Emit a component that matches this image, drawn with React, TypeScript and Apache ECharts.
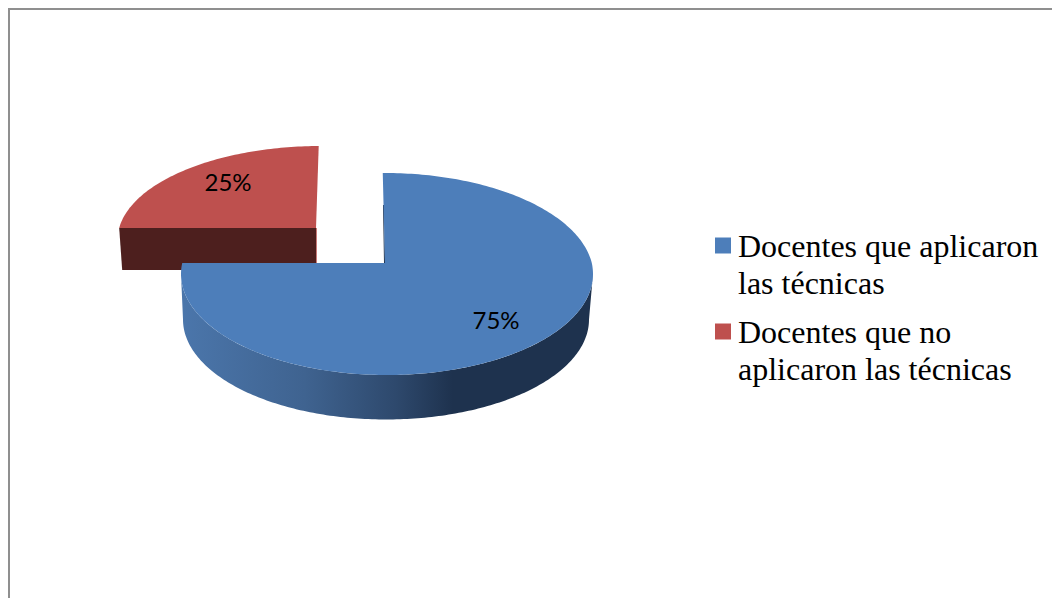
import React, { useEffect, useRef } from "react";
import * as echarts from "echarts";

const categories = ["Docentes que aplicaron las técnicas", "Docentes que no aplicaron las técnicas"];
const legendLines = ["Docentes que aplicaron\nlas técnicas", "Docentes que no\naplicaron las técnicas"];
const shares = [75, 25];
const percentLabels = ["75%", "25%"];
const colors = ["#4d7eba", "#be504e"];

type Slice = {
  apex: number[]; center: number[]; rx: number; ry: number; shear: number; label: number[]; startDeg: number;
};
const geometry: Slice[] = [
  { apex: [385, 263], center: [387, 274], rx: 206, ry: 101, shear: -0.025, label: [496, 319.5], startDeg: 0 },
  { apex: [316, 228], center: [318, 238], rx: 200, ry: 92, shear: 0.033, label: [228, 181.5], startDeg: 270 },
];
const bottomRim = { center: [386, 319.5], rx: 203, ry: 100 };
const legendTops = [190, 276];

function arcPoints(g: Slice, sweepDeg: number): number[][] {
  const ax = (g.apex[0] - g.center[0]) / g.rx;
  const ay = (g.apex[1] - g.center[1]) / g.ry;
  const param = (deg: number) => {
    const r = (deg * Math.PI) / 180;
    const dx = Math.sin(r);
    const dy = -Math.cos(r);
    const b = ax * dx + ay * dy;
    const s = -b + Math.sqrt(b * b - ax * ax - ay * ay + 1);
    return Math.atan2(ay + s * dy, ax + s * dx);
  };
  const t0 = param(g.startDeg);
  let t1 = param(g.startDeg + sweepDeg);
  while (t1 <= t0) t1 += Math.PI * 2;
  const pts: number[][] = [];
  const n = Math.ceil(((t1 - t0) * 180) / Math.PI);
  for (let i = 0; i <= n; i++) {
    const t = t0 + ((t1 - t0) * i) / n;
    const x = g.center[0] + g.rx * Math.cos(t);
    const y = g.center[1] + g.ry * Math.sin(t);
    pts.push([x + (y < g.apex[1] ? g.shear * (g.apex[1] - y) : 0), y]);
  }
  return pts;
}

function blueSide(): number[][] {
  const g = geometry[0];
  const pts: number[][] = [];
  for (let d = 0; d <= 180; d++) {
    const t = (d * Math.PI) / 180;
    pts.push([g.center[0] + g.rx * Math.cos(t), g.center[1] + g.ry * Math.sin(t)]);
  }
  for (let d = 180; d >= 0; d--) {
    const t = (d * Math.PI) / 180;
    pts.push([bottomRim.center[0] + bottomRim.rx * Math.cos(t), bottomRim.center[1] + bottomRim.ry * Math.sin(t)]);
  }
  return pts;
}

function renderSlice(index: number) {
  return (_params: any, api: any) => {
    const g = geometry[index];
    const sweep = (api.value(0) / 100) * 360;
    const arc = arcPoints(g, sweep);
    const children: any[] = [];
    if (index === 0) {
      children.push({
        type: "polygon",
        shape: { points: blueSide() },
        style: {
          fill: new echarts.graphic.LinearGradient(0, 0, 1, 0, [
            { offset: 0, color: "#4b76ab" },
            { offset: 0.3, color: "#3f6390" },
            { offset: 0.52, color: "#2e496d" },
            { offset: 0.66, color: "#1e324e" },
            { offset: 1, color: "#1e324e" },
          ]),
        },
      });
      children.push({
        type: "line",
        shape: { x1: g.apex[0] - 1.5, y1: g.apex[1] - 58, x2: g.apex[0] - 0.5, y2: g.apex[1] },
        style: { stroke: "#1e324e", lineWidth: 1 },
      });
    } else {
      const left = arc[0];
      children.push({
        type: "polygon",
        shape: { points: [left, g.apex, [g.apex[0], g.apex[1] + 42], [left[0] + 3, left[1] + 42]] },
        style: { fill: "#4d1f1e" },
      });
      children.push({
        type: "line",
        shape: { x1: g.apex[0] + 0.5, y1: g.apex[1], x2: g.apex[0] + 0.5, y2: g.apex[1] + 35 },
        style: { stroke: "#c87a78", lineWidth: 1 },
      });
    }
    children.push({
      type: "polygon",
      shape: { points: [g.apex, ...arc] },
      style: { fill: colors[index] },
    });
    children.push({
      type: "text",
      x: g.label[0],
      y: g.label[1],
      style: {
        text: percentLabels[index],
        fill: "#000000",
        font: "24px Lato",
        align: "center",
        verticalAlign: "middle",
      },
    });
    return { type: "group", children };
  };
}

export default function App() {
  const ref = useRef<HTMLDivElement>(null);
  useEffect(() => {
    document.body.style.margin = "0";
    document.body.style.overflow = "hidden";
    const chart = echarts.init(ref.current!, null, { renderer: "svg" });
    chart.setOption({
      animation: false,
      backgroundColor: "#ffffff",
      graphic: [
        {
          type: "polyline",
          silent: true,
          shape: { points: [[9, 598], [9, 9], [1052, 9]] },
          style: { stroke: "#8f8f8f", lineWidth: 2, fill: "none" },
        },
      ],
      legend: categories.map((name, i) => ({
        data: [{ name, icon: "rect", itemStyle: { color: colors[i] } }],
        left: 715,
        top: legendTops[i],
        padding: 0,
        itemWidth: 16,
        itemHeight: 16,
        selectedMode: false,
        formatter: () => "\n" + legendLines[i],
        textStyle: {
          fontFamily: "Liberation Serif",
          fontSize: 32,
          lineHeight: 37,
          color: "#000000",
          padding: [0, 0, 0, 2],
        },
      })),
      series: [1, 0].map((i) => ({
        type: "custom",
        name: categories[i],
        coordinateSystem: "none",
        itemStyle: { color: colors[i] },
        data: [[shares[i]]],
        renderItem: renderSlice(i),
        silent: true,
      })),
    });
    return () => chart.dispose();
  }, []);
  return <div ref={ref} style={{ width: 1052, height: 598 }} />;
}
